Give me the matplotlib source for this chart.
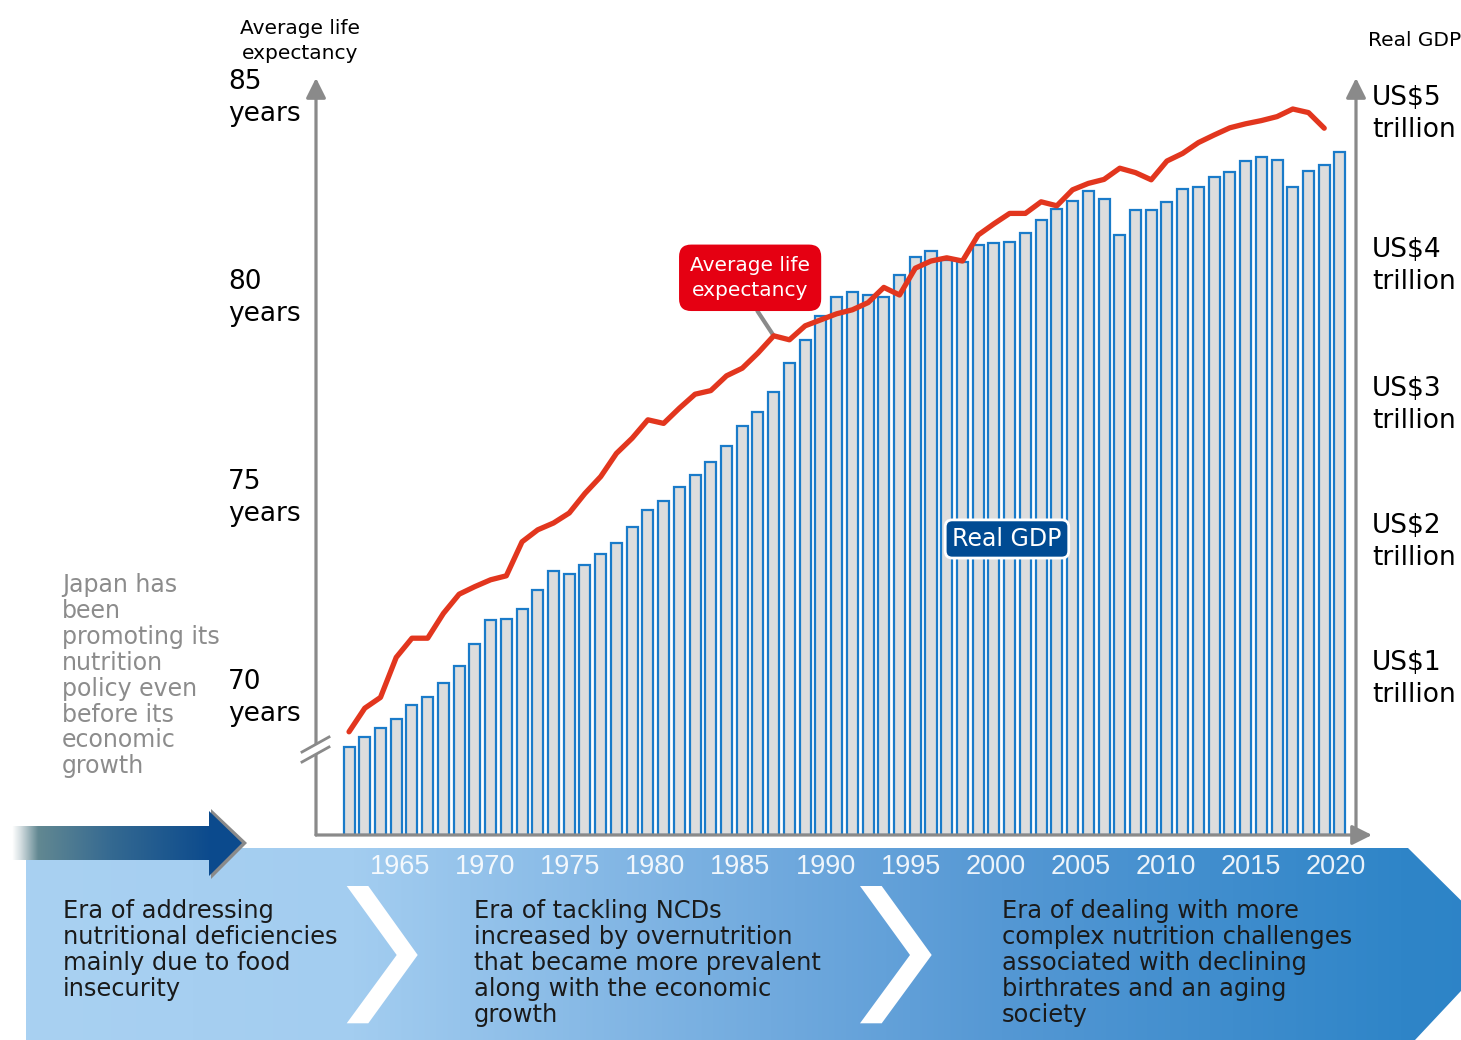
import numpy as np
import matplotlib
matplotlib.use("Agg")
import matplotlib.pyplot as plt
from matplotlib.colors import LinearSegmentedColormap
from matplotlib.patches import Polygon, Rectangle
from matplotlib.transforms import blended_transform_factory, offset_copy

# ---- data ----
years = list(range(1960, 2024))

# Real GDP, US$ trillion, 1960-2023
gdp = [0.640, 0.718, 0.783, 0.849, 0.949, 1.007, 1.109, 1.234, 1.394, 1.569,
       1.577, 1.650, 1.788, 1.929, 1.907, 1.969, 2.049, 2.134, 2.250, 2.370,
       2.438, 2.542, 2.626, 2.723, 2.842, 2.985, 3.085, 3.231, 3.445, 3.613,
       3.788, 3.925, 3.961, 3.942, 3.929, 4.090, 4.219, 4.261, 4.197, 4.185,
       4.307, 4.323, 4.326, 4.394, 4.489, 4.567, 4.628, 4.703, 4.642, 4.377,
       4.560, 4.560, 4.620, 4.715, 4.730, 4.801, 4.839, 4.920, 4.951, 4.929,
       4.728, 4.849, 4.891, 4.988]

# Average life expectancy, years, 1960-2022
life_exp = [69.08, 69.67, 69.94, 70.94, 71.42, 71.42, 72.04, 72.52, 72.71, 72.88,
            72.98, 73.83, 74.13, 74.30, 74.55, 75.04, 75.46, 76.04, 76.42, 76.88,
            76.79, 77.17, 77.52, 77.61, 77.98, 78.17, 78.55, 78.98, 78.88, 79.23,
            79.38, 79.53, 79.63, 79.81, 80.19, 80.00, 80.67, 80.85, 80.93, 80.85,
            81.50, 81.78, 82.04, 82.04, 82.33, 82.23, 82.63, 82.79, 82.89, 83.17,
            83.06, 82.88, 83.35, 83.54, 83.81, 84.00, 84.18, 84.28, 84.36, 84.46,
            84.65, 84.56, 84.17]

le_ticks = [70, 75, 80, 85]
gdp_ticks = [1, 2, 3, 4, 5]
gdp_label_pos = [1.14, 2.14, 3.14, 4.15, 5.26]
band_years = ["1965", "1970", "1975", "1980", "1985", "1990",
              "1995", "2000", "2005", "2010", "2015", "2020"]

era_texts = [
    "Era of addressing\nnutritional deficiencies\nmainly due to food\ninsecurity",
    "Era of tackling NCDs\nincreased by overnutrition\nthat became more prevalent\nalong with the economic\ngrowth",
    "Era of dealing with more\ncomplex nutrition challenges\nassociated with declining\nbirthrates and an aging\nsociety",
]
side_note = "Japan has\nbeen\npromoting its\nnutrition\npolicy even\nbefore its\neconomic\ngrowth"

# ---- layout (pixels of a 1461x1040 canvas) ----
W, H = 1461, 1040
AX_L, AX_R, AX_B, AX_T = 316, 1356, 835, 78
GREY = "#8a8a8a"

fig = plt.figure(figsize=(W / 100, H / 100), dpi=100)
ax = fig.add_axes([AX_L / W, 1 - AX_B / H, (AX_R - AX_L) / W, (AX_B - AX_T) / H])
ax.set_xlim(1957.9, 2024.02)
ax.set_ylim(0, 5.526)
ax.bar(years, gdp, width=0.7, color="#dddddd", edgecolor="#1a7bc9", linewidth=1.6, zorder=2)
ax.set_axis_off()

axl = ax.twinx()
axl.set_ylim(66.5, 85.425)
axl.plot(years[:len(life_exp)], life_exp, color="#e2361e", lw=3.8,
         solid_joinstyle="round", solid_capstyle="round", zorder=3)
axl.set_axis_off()

# axis lines with arrow heads
arrow_kw = dict(arrowstyle="-|>,head_length=0.6,head_width=0.3", color=GREY, lw=2.3,
                mutation_scale=20, shrinkA=0, shrinkB=0)
x_end = (1372 - AX_L) / (AX_R - AX_L)
for xy, xytext in [((0, 1), (0, 0)), ((1, 1), (1, 0)), ((x_end, 0), (0, 0))]:
    ax.annotate("", xy=xy, xytext=xytext, xycoords="axes fraction",
                arrowprops=arrow_kw, annotation_clip=False)

# tick labels
tl = offset_copy(blended_transform_factory(ax.transAxes, axl.transData), fig=fig,
                 y=-3, units="dots")
for v in le_ticks:
    axl.text((228 - AX_L) / (AX_R - AX_L), v, f"{v}\nyears", transform=tl,
             ha="left", va="center", fontsize=19, linespacing=1.3, clip_on=False)
tr = blended_transform_factory(ax.transAxes, ax.transData)
for v, pos in zip(gdp_ticks, gdp_label_pos):
    ax.text((1372 - AX_L) / (AX_R - AX_L), pos, f"US${v}\ntrillion", transform=tr,
            ha="left", va="center", fontsize=19, linespacing=1.3, clip_on=False,
            parse_math=False)

fig.text(300 / W, 1 - 41 / H, "Average life\nexpectancy", ha="center", va="center",
         fontsize=14.5, linespacing=1.42)
fig.text(1368 / W, 1 - 41 / H, "Real GDP", ha="left", va="center", fontsize=14.5)

# series call-outs
i87 = years.index(1987)
axl.annotate("Average life\nexpectancy", xy=(1987, life_exp[i87]), xytext=(1985.5, 80.43),
             ha="center", va="center", color="white", fontsize=14.5, linespacing=1.42,
             bbox=dict(boxstyle="round,pad=0.55,rounding_size=0.6", fc="#e50012", ec="none"),
             arrowprops=dict(arrowstyle="-", color=GREY, lw=3, shrinkA=0, shrinkB=0,
                             relpos=(0.5, 0)), zorder=2)
ax.text(2001.83, 2.161, "Real GDP", ha="center", va="center", color="white", fontsize=17,
        bbox=dict(boxstyle="round,pad=0.3,rounding_size=0.3", fc="#004b93", ec="white", lw=2),
        zorder=5)

# ---- decoration layer in pixel coordinates ----
deco = fig.add_axes([0, 0, 1, 1], zorder=5)
deco.set_axis_off()
grad = np.linspace(0, 1, 512).reshape(1, -1)

band = Polygon([(26, 848), (1408, 848), (1505, 944), (1415, 1040), (26, 1040)],
               closed=True, fc="none", ec="none")
deco.add_patch(band)
band_cmap = LinearSegmentedColormap.from_list(
    "band", [(0, "#a9d1f2"), (0.22, "#a3cdf0"), (0.52, "#6ea8dd"),
             (0.66, "#5598d4"), (0.93, "#2f85c8"), (1, "#2c83c7")])
im = deco.imshow(grad, extent=(26, 1505, 1040, 848), cmap=band_cmap, aspect="auto")
im.set_clip_path(band)

for pts in [[(346.7, 886), (368.3, 886), (417.7, 955), (368.3, 1023.3), (346.7, 1023.3), (396.7, 955)],
            [(860, 886), (881.7, 886), (931.7, 955), (881.7, 1023.3), (860, 1023.3), (910, 955)]]:
    deco.add_patch(Polygon(pts, closed=True, fc="white", ec="none"))

# big arrow on the left
body = Rectangle((12, 826), 200, 34, fc="none", ec="none")
deco.add_patch(body)
arrow_cmap = LinearSegmentedColormap.from_list(
    "arrow", [(0, "#ffffff"), (0.04, "#d6dfe2"), (0.13, "#628892"), (0.5, "#346991"), (1, "#0b4a8d")])
im2 = deco.imshow(grad, extent=(12, 212, 860, 826), cmap=arrow_cmap, aspect="auto")
im2.set_clip_path(body)
deco.add_patch(Polygon([(211, 809), (247, 843), (211, 879)], closed=True, fc=GREY, ec="none"))
deco.add_patch(Polygon([(209, 811), (242, 843), (209, 876)], closed=True, fc="#0b4a8d", ec="none"))

# axis break on the left axis
deco.add_patch(Polygon([(302, 752), (329, 737), (329, 747), (302, 762)], closed=True,
                       fc="white", ec="none"))
deco.plot([302, 329], [752, 737], color=GREY, lw=2)
deco.plot([302, 329], [762, 747], color=GREY, lw=2)

for i, label in enumerate(band_years):
    deco.text(400 + 85.1 * i, 867, label, ha="center", va="center", color="white",
              alpha=0.9, fontsize=19.5, family="Liberation Sans")

for x, txt in zip([63, 474, 1002], era_texts):
    deco.text(x, 899, txt, ha="left", va="top", fontsize=17.4, color="#1a1a1a", linespacing=1.1)

deco.text(62, 573, side_note, ha="left", va="top", fontsize=17, color="#8c8c8c", linespacing=1.1)

deco.set_xlim(0, W)
deco.set_ylim(H, 0)

fig.savefig("out.png", dpi=100)
